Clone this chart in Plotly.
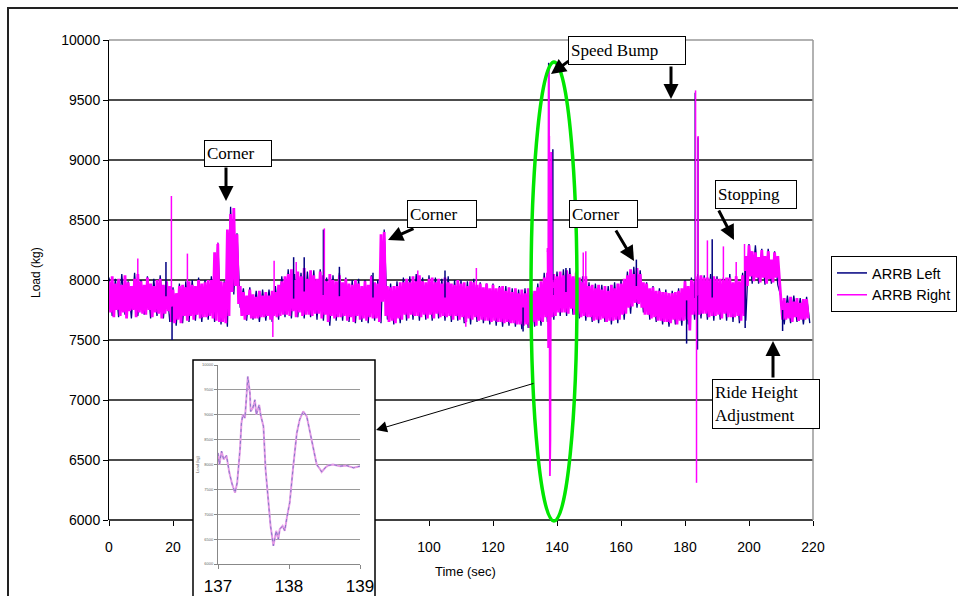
import plotly.graph_objects as go

W, H = 958, 596


def PX(px):
    return px / W


def PY(py):
    return (H - py) / H


# ---------------- data ----------------
time_s = list(range(0, 219))

right_hi = [
    7990, 8030, 7970, 8010, 7960, 8040, 7980, 7950, 8010, 8050,
    7990, 7960, 8020, 7970, 7950, 8000, 8010, 7960, 7990, 7950,
    7920, 7890, 7950, 7960, 7940, 7990, 7960, 7950, 8000, 7970,
    7980, 8000, 8000, 8230, 8300, 7990, 7980, 8420, 8550, 8600,
    8380, 7950, 7900, 7870, 7920, 7880, 7860, 7910, 7870, 7900,
    7870, 7910, 7900, 7960, 7990, 8030, 8050, 8090, 8000, 8070,
    8030, 8100, 8010, 8080, 8040, 8010, 8070, 8040, 7990, 8050,
    8000, 7990, 8040, 7980, 8010, 7970, 7960, 8000, 7970, 7950,
    7990, 7960, 8030, 7980, 7970, 8380, 8400, 7950, 7940, 7950,
    7950, 7980, 7980, 8010, 7980, 8030, 7990, 8040, 7990, 7980,
    8010, 8020, 7980, 8010, 7970, 8020, 7980, 7970, 7960, 8000,
    7970, 7980, 7950, 7990, 7980, 7960, 7970, 7940, 7970, 7930,
    7960, 7930, 7940, 7950, 7910, 7940, 7900, 7930, 7890, 7920,
    7890, 7930, 7880, 7910, 7940, 7990, 8020, 8060, 8040, 8050,
    8030, 8070, 8040, 8080, 8050, 8030, 8060, 8020, 7980, 8030,
    7950, 7960, 7930, 7960, 7920, 7950, 7910, 7960, 7930, 7970,
    7970, 8010, 8040, 8090, 8050, 8100, 8050, 7980, 7970, 7930,
    7940, 7910, 7910, 7900, 7900, 7890, 7890, 7900, 7910, 7930,
    7990, 7950, 8000, 7990, 8030, 8040, 8020, 8020, 8010, 8030,
    8010, 8010, 8000, 8020, 8020, 7980, 8030, 7990, 8040, 8200,
    8290, 8240, 8230, 8190, 8250, 8200, 8240, 8170, 8230, 8200,
    7830, 7850, 7810, 7860, 7820, 7850, 7810, 7840, 7840,
]

right_lo = [
    7730, 7690, 7750, 7700, 7730, 7680, 7740, 7750, 7690, 7730,
    7720, 7710, 7750, 7690, 7730, 7720, 7680, 7720, 7740, 7650,
    7640, 7670, 7640, 7700, 7660, 7700, 7670, 7710, 7680, 7690,
    7690, 7700, 7680, 7660, 7650, 7650, 7640, 7700, 7900, 7950,
    7800, 7700, 7670, 7710, 7680, 7680, 7680, 7690, 7690, 7700,
    7670, 7700, 7690, 7700, 7710, 7710, 7700, 7740, 7690, 7730,
    7700, 7710, 7710, 7700, 7720, 7720, 7680, 7710, 7650, 7700,
    7680, 7690, 7690, 7700, 7660, 7690, 7650, 7700, 7670, 7680,
    7660, 7690, 7680, 7680, 7650, 7820, 7700, 7650, 7660, 7640,
    7680, 7670, 7710, 7680, 7710, 7700, 7700, 7690, 7710, 7680,
    7710, 7680, 7720, 7690, 7700, 7690, 7700, 7670, 7700, 7670,
    7690, 7650, 7680, 7670, 7690, 7660, 7670, 7660, 7660, 7650,
    7660, 7650, 7650, 7640, 7650, 7640, 7640, 7630, 7630, 7620,
    7630, 7600, 7650, 7620, 7660, 7650, 7690, 7700, 7690, 7700,
    7730, 7730, 7730, 7720, 7760, 7710, 7720, 7690, 7700, 7690,
    7690, 7660, 7670, 7670, 7680, 7650, 7660, 7660, 7670, 7670,
    7710, 7720, 7770, 7780, 7810, 7800, 7770, 7710, 7710, 7680,
    7690, 7660, 7660, 7650, 7650, 7640, 7670, 7630, 7660, 7660,
    7670, 7580, 7710, 7710, 7710, 7720, 7720, 7690, 7700, 7700,
    7710, 7680, 7720, 7690, 7690, 7690, 7700, 7660, 7700, 7950,
    8030, 7990, 8020, 7980, 8020, 7970, 8010, 7980, 8020, 7990,
    7670, 7670, 7680, 7650, 7690, 7660, 7670, 7670, 7680,
]

time_left = list(range(0, 219, 2))

left_hi = [
    8020, 8010, 8050, 7990, 8060, 8000, 8030, 8010, 8040, 7970,
    7940, 7970, 7990, 8000, 8020, 8000, 8030, 8310, 7990, 8610,
    8390, 7930, 7940, 7910, 7920, 7920, 7950, 8030, 8090, 8050,
    8060, 8070, 8080, 8090, 8020, 8040, 8060, 8020, 8000, 8010,
    8000, 8040, 8000, 8420, 7970, 7990, 8020, 8030, 8050, 8020,
    8040, 8020, 8010, 8030, 8000, 8000, 7990, 8010, 7980, 7970,
    7970, 7950, 7950, 7930, 7920, 7930, 7920, 7970, 8060, 8090,
    8070, 8090, 8100, 8070, 8030, 7980, 7970, 7960, 7950, 7980,
    8000, 8070, 8110, 8080, 7980, 7950, 7930, 7920, 7910, 7930,
    8000, 8020, 8050, 8040, 8050, 8030, 8020, 8050, 8030, 8060,
    8300, 8290, 8260, 8260, 8240, 7860, 7870, 7870, 7850, 7860,
]

left_lo = [
    7700, 7690, 7710, 7680, 7700, 7710, 7680, 7700, 7680, 7650,
    7620, 7640, 7650, 7660, 7650, 7670, 7650, 7630, 7610, 7880,
    7770, 7660, 7670, 7650, 7660, 7650, 7670, 7690, 7680, 7690,
    7680, 7690, 7670, 7660, 7620, 7660, 7660, 7650, 7640, 7650,
    7640, 7660, 7640, 7670, 7630, 7640, 7660, 7670, 7660, 7670,
    7660, 7680, 7660, 7650, 7660, 7640, 7630, 7650, 7640, 7630,
    7620, 7610, 7620, 7610, 7590, 7600, 7610, 7620, 7650, 7670,
    7700, 7700, 7710, 7680, 7660, 7650, 7640, 7650, 7630, 7640,
    7670, 7720, 7770, 7730, 7670, 7650, 7630, 7610, 7630, 7620,
    7630, 7670, 7680, 7670, 7660, 7670, 7660, 7650, 7640, 7660,
    7970, 7970, 7960, 7970, 7960, 7630, 7640, 7650, 7630, 7640,
]

left_spike_t = [17.8, 19.7, 57.7, 61, 67, 72, 82.5, 105, 129.4, 142.8, 164.8,
                180.5, 188.5, 198.8, 210.5, 137.4, 138.7, 137.9, 183.2, 184.1, 183.9]
left_spike_v = [8150, 7500, 8190, 8190, 8420, 8110, 8060, 8080, 7570, 8100, 8170,
                7470, 8340, 7600, 7575, 9810, 9090, 7420, 9560, 9190, 7420]

right_spike_t = [9, 19.5, 24.5, 34, 51.2, 51.6, 58.5, 67.3, 96.5, 111.5, 114.8,
                 148.2, 149, 187, 192, 196, 198.6, 183.3, 183.6, 184.1]
right_spike_v = [8180, 8700, 8220, 8310, 7525, 8160, 8150, 8430, 8080, 7610, 8100,
                 8230, 8240, 8330, 8280, 8150, 8300, 9580, 6310, 9200]

# speed bump detail (also shown in the inset)
inset_t = [137.00, 137.02, 137.05, 137.08, 137.12, 137.16, 137.20, 137.24, 137.27,
           137.31, 137.33, 137.35, 137.38, 137.40, 137.42, 137.45, 137.46, 137.49,
           137.52, 137.54, 137.58, 137.60, 137.64, 137.67, 137.71, 137.74, 137.78,
           137.80, 137.82, 137.85, 137.87, 137.91, 137.94, 137.97, 138.01, 138.06,
           138.11, 138.15, 138.20, 138.25, 138.29, 138.34, 138.39, 138.44, 138.46,
           138.51, 138.55, 138.62, 138.72, 138.81, 138.91, 139.00]
inset_load = [8233, 8000, 8267, 8100, 8180, 7833, 7600, 7433, 7633,
              8300, 8833, 9000, 8933, 9500, 9767, 9433, 9067, 9133,
              9300, 9000, 9200, 9000, 8767, 7900, 7233, 6767, 6367,
              6500, 6667, 6500, 6700, 6767, 6667, 6933, 7233, 7967,
              8633, 8900, 9067, 8967, 8700, 8367, 8000, 7900, 7850,
              7933, 7980, 8000, 7967, 7980, 7933, 7967]

x_ticks = [0, 20, 100, 120, 140, 160, 180, 200, 220]
y_ticks = [6000, 6500, 7000, 7500, 8000, 8500, 9000, 9500, 10000]
inset_x_ticks = [137, 138, 139]

NAVY = "#000080"
MAG = "#ff00ff"
ARIAL = "Arial, Liberation Sans, sans-serif"
TIMES = "Times New Roman, Liberation Serif, serif"


def zigzag(ts, hi, lo, step):
    xs, ys = [], []
    for t, h, l in zip(ts, hi, lo):
        xs += [t, t + step / 2]
        ys += [h, l]
    return xs, ys


fig = go.Figure()

lzx, lzy = zigzag(time_left, left_hi, left_lo, 2)
rzx, rzy = zigzag(time_s, right_hi, right_lo, 1)
fig.add_trace(go.Scatter(x=lzx, y=lzy, mode="lines", showlegend=False,
                         hoverinfo="skip", line=dict(color=NAVY, width=1.3)))
fig.add_trace(go.Scatter(x=rzx, y=rzy, mode="lines", showlegend=False,
                         hoverinfo="skip", line=dict(color=MAG, width=2.8)))


def spikes(ts, vs):
    xs, ys = [], []
    for t, v in zip(ts, vs):
        i = int(round(t))
        base = (right_hi[i] + right_lo[i]) / 2
        xs += [t, t, None]
        ys += [base, v, None]
    return xs, ys


lx, ly = spikes(left_spike_t, left_spike_v)
rx, ry = spikes(right_spike_t, right_spike_v)
fig.add_trace(go.Scatter(x=lx, y=ly, mode="lines", name="ARRB Left",
                         line=dict(color=NAVY, width=1.5)))
fig.add_trace(go.Scatter(x=rx, y=ry, mode="lines", name="ARRB Right",
                         line=dict(color=MAG, width=1.5)))
fig.add_trace(go.Scatter(x=inset_t, y=inset_load, mode="lines", showlegend=False,
                         line=dict(color=MAG, width=1.8)))

# inset
fig.add_trace(go.Scatter(x=inset_t, y=inset_load, mode="lines", showlegend=False,
                         xaxis="x2", yaxis="y2",
                         line=dict(color="#e39be6", width=2)))
fig.add_trace(go.Scatter(x=inset_t, y=inset_load, mode="lines", showlegend=False,
                         xaxis="x2", yaxis="y2",
                         line=dict(color="#8577c8", width=1, dash="dot")))

tickfont = dict(family=ARIAL, size=14, color="black")

fig.update_layout(
    width=W, height=H, autosize=False,
    margin=dict(l=0, r=0, t=0, b=0, pad=0, autoexpand=False),
    paper_bgcolor="white", plot_bgcolor="white",
    showlegend=True,
    xaxis=dict(domain=[PX(109), PX(813)], range=[0, 220], tickvals=x_ticks,
               ticks="outside", ticklen=5, tickcolor="black", showline=False,
               showgrid=False, zeroline=False, tickfont=tickfont,
               ticklabelstandoff=9, anchor="y", fixedrange=True),
    yaxis=dict(domain=[PY(520), PY(40)], range=[6000, 10000], tickvals=y_ticks,
               tickformat="d",
               ticks="outside", ticklen=5, tickcolor="black", showline=True,
               linecolor="black", linewidth=1, showgrid=False, zeroline=False,
               tickfont=tickfont, anchor="x", fixedrange=True),
    xaxis2=dict(domain=[PX(218), PX(360)], range=[137, 139], anchor="y2",
                tickvals=inset_x_ticks, ticks="outside", ticklen=4,
                tickcolor="#888", showline=True, linecolor="#888",
                showgrid=False, zeroline=False,
                tickfont=dict(family=ARIAL, size=17, color="black"),
                ticklabelstandoff=3),
    yaxis2=dict(domain=[PY(564), PY(365)], range=[6000, 10000], anchor="x2",
                tickvals=y_ticks, tickformat="d", showgrid=True,
                gridcolor="#9a9a9a", gridwidth=1,
                showline=True, linecolor="#888", ticks="outside", ticklen=3,
                tickcolor="#888", zeroline=False,
                tickfont=dict(family=ARIAL, size=4, color="#666")),
    legend=dict(x=PX(831), y=PY(256), xanchor="left", yanchor="top",
                bordercolor="black", borderwidth=1, bgcolor="white",
                font=dict(family=ARIAL, size=14.5, color="black"),
                itemwidth=30, tracegroupgap=0, traceorder="normal"),
)

# ---------------- decorations ----------------
shapes = []
for v in y_ticks[1:-1]:
    yp = PY(520) + (v - 6000) / 4000 * (PY(40) - PY(520))
    shapes.append(dict(type="line", xref="paper", yref="paper", layer="below",
                       x0=PX(109), x1=PX(813), y0=yp, y1=yp,
                       line=dict(color="#111", width=1.3)))
# x axis line
shapes.append(dict(type="line", xref="paper", yref="paper", layer="below",
                   x0=PX(109), x1=PX(813), y0=PY(520), y1=PY(520),
                   line=dict(color="black", width=1.3)))
# plot area border (top & right)
shapes.append(dict(type="line", xref="paper", yref="paper", layer="below",
                   x0=PX(109), x1=PX(813), y0=PY(40), y1=PY(40),
                   line=dict(color="#999", width=1.5)))
shapes.append(dict(type="line", xref="paper", yref="paper", layer="below",
                   x0=PX(813), x1=PX(813), y0=PY(520), y1=PY(40),
                   line=dict(color="#999", width=1.5)))
# inset box
shapes.append(dict(type="rect", xref="paper", yref="paper", layer="below",
                   x0=PX(193), x1=PX(375), y0=PY(615), y1=PY(360),
                   fillcolor="white", line=dict(color="black", width=1.5)))
# green ellipse
shapes.append(dict(type="circle", xref="paper", yref="paper", layer="above",
                   x0=PX(531), x1=PX(577), y0=PY(521), y1=PY(62),
                   line=dict(color="#00e600", width=3.5)))
# outer frame
shapes.append(dict(type="rect", xref="paper", yref="paper", layer="above",
                   x0=PX(8), x1=PX(975), y0=PY(620), y1=PY(8),
                   line=dict(color="#222", width=2)))
fig.update_layout(shapes=shapes)

annotations = []
boxes = [
    ("Corner", 204, 140, 68, 27),
    ("Corner", 407, 200, 70, 28),
    ("Speed Bump", 568, 36, 118, 29),
    ("Corner", 569, 200, 69, 28),
    ("Stopping", 715, 180, 82, 29),
    ("Ride Height<br>Adjustment", 712, 379, 108, 50),
]
for text, bx, by, bw, bh in boxes:
    annotations.append(dict(
        text=text, xref="paper", yref="paper",
        x=PX(bx + bw / 2), y=PY(by + bh / 2), xanchor="center", yanchor="middle",
        showarrow=False, align="left", valign="middle",
        width=bw - 6, height=bh - 6, borderpad=2, borderwidth=1,
        bordercolor="black", bgcolor="white",
        font=dict(family=TIMES, size=17, color="black")))

arrows = [
    ((226, 166), (226, 201), 3, 1.0),
    ((415, 228), (388, 240), 3, 1.0),
    ((570, 60), (551, 74), 3, 1.0),
    ((671, 65), (671, 99), 3, 1.0),
    ((615, 229), (634, 261), 3, 1.0),
    ((718, 209), (734, 240), 3, 1.0),
    ((773, 379), (773, 341), 3, 1.0),
    ((535, 383), (376, 430), 1, 2.2),
]
for (tx, ty), (hx, hy), w, s in arrows:
    annotations.append(dict(
        text="", xref="paper", yref="paper", x=PX(hx), y=PY(hy),
        ax=tx - hx, ay=ty - hy, axref="pixel", ayref="pixel",
        showarrow=True, arrowhead=2, arrowwidth=w, arrowsize=s,
        arrowcolor="black", standoff=0, startstandoff=0))

annotations.append(dict(text="Load (kg)", xref="paper", yref="paper",
                        x=PX(36), y=PY(273), xanchor="center", yanchor="middle",
                        textangle=-90, showarrow=False,
                        font=dict(family=ARIAL, size=12, color="black")))
annotations.append(dict(text="Time (sec)", xref="paper", yref="paper",
                        x=PX(465), y=PY(571), xanchor="center", yanchor="middle",
                        showarrow=False,
                        font=dict(family=ARIAL, size=13, color="black")))
annotations.append(dict(text="Load (kg)", xref="paper", yref="paper",
                        x=PX(197), y=PY(464), xanchor="center", yanchor="middle",
                        textangle=-90, showarrow=False,
                        font=dict(family=ARIAL, size=4, color="#666")))
fig.update_layout(annotations=annotations)

fig.write_html(
    "out.html",
    config={"displayModeBar": False},
    post_script="document.body.style.margin='0px';document.body.style.overflow='hidden';",
)
